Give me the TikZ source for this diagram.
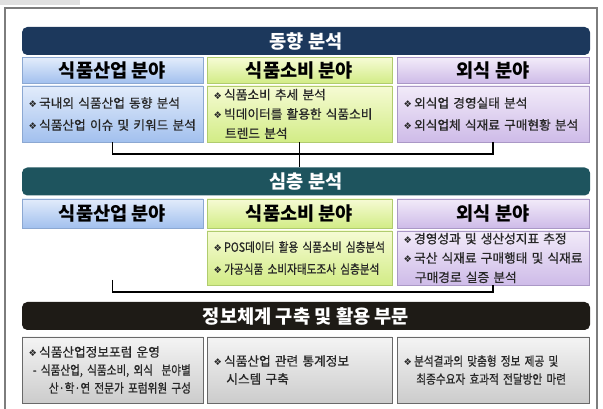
\documentclass[tikz,border=0pt]{standalone}
\usepackage{fontspec}
\setmainfont{Noto Sans CJK KR}
\newfontfamily\krmed[FakeBold=0.7]{Noto Sans CJK KR}
\newfontfamily\krnarrow[FakeStretch=0.84,FakeBold=0.7]{Noto Sans CJK KR}
\newfontfamily\symfont{DejaVu Sans}
\newcommand{\bul}{{\symfont\fontsize{7}{8}\selectfont ❖}\,}
\definecolor{navyBar}{RGB}{28,56,92}
\definecolor{tealBar}{RGB}{30,84,94}
\definecolor{blackBar}{RGB}{30,27,22}
\definecolor{bluT}{RGB}{226,236,251}
\definecolor{bluB}{RGB}{162,192,238}
\definecolor{bluD}{RGB}{140,168,210}
\definecolor{grnT}{RGB}{246,251,212}
\definecolor{grnB}{RGB}{210,236,134}
\definecolor{grnD}{RGB}{176,204,110}
\definecolor{prpT}{RGB}{242,235,249}
\definecolor{prpB}{RGB}{206,187,232}
\definecolor{prpD}{RGB}{170,152,198}
\definecolor{gryT}{RGB}{244,244,244}
\definecolor{gryB}{RGB}{204,204,204}
\definecolor{gryD}{RGB}{105,105,105}
\definecolor{frameGray}{RGB}{125,125,125}
\tikzset{
  bar/.style={rounded corners=4pt, minimum width=426pt, minimum height=21pt,
    inner sep=0pt, text=white, font=\bfseries\fontsize{14}{16}\selectfont},
  hdr/.style={draw, line width=0.6pt, minimum height=19pt, inner sep=0pt,
    font=\bfseries\fontsize{14}{16}\selectfont},
  cbox/.style={draw, line width=0.6pt, align=left, inner xsep=5pt, inner ysep=0pt,
    text width=#1, font=\krmed\fontsize{9.5}{14.5}\selectfont, text=black!85},
  colL/.style={minimum width=135.75pt},
  colM/.style={minimum width=138.75pt},
  colR/.style={minimum width=144pt},
  blu/.style={top color=bluT, bottom color=bluB, draw=bluD},
  grn/.style={top color=grnT, bottom color=grnB, draw=grnD},
  prp/.style={top color=prpT, bottom color=prpB, draw=prpD},
  gry/.style={top color=gryT, bottom color=gryB, draw=gryD},
  link/.style={line width=0.9pt, black}
}
\begin{document}
\begin{tikzpicture}[x=0.75pt, y=-0.75pt]
  \useasboundingbox (0,0) rectangle (603,409);
  % 바깥 틀과 왼쪽 위 탭
  \fill[black!12] (0,0) rectangle (80,5);
  \draw[frameGray, line width=0.9pt] (5,409) -- (5,8) -- (597,8) -- (597,409);
  % 동향 분석
  \node[bar, fill=navyBar] (b1) at (306,41) {동향 분석};
  \node[hdr, colL, blu] (h1l) at (112.5,70.5) {식품산업 분야};
  \node[hdr, colM, grn] (h1m) at (299.5,70.5) {식품소비 분야};
  \node[hdr, colR, prp] (h1r) at (493,70.5) {외식 분야};
  \node[cbox=125.75pt, blu, minimum height=42pt] (c1l) at (112.5,114)
    {\mbox{\bul 국내외 식품산업 동향 분석}\\[2pt]\mbox{\bul 식품산업 이슈 및 키워드 분석}};
  \node[cbox=128.75pt, grn, minimum height=42pt] (c1m) at (299.5,114)
    {\mbox{\bul 식품소비 추세 분석}\\\mbox{\bul 빅데이터를 활용한 식품소비}\\\hspace*{0.9em}\mbox{트렌드 분석}};
  \node[cbox=134pt, prp, minimum height=42pt] (c1r) at (493,114)
    {\mbox{\bul 외식업 경영실태 분석}\\[2pt]\mbox{\bul 외식업체 식재료 구매현황 분석}};
  % 심층 분석
  \node[bar, fill=tealBar] (b2) at (306,181.5) {심층 분석};
  % 연결선 1
  \coordinate (j1) at (299.5,154);
  \draw[link] (c1l.south) |- (j1) -| (c1r.south);
  \draw[link] (c1m.south) -- (c1m.south |- b2.north);
  \node[hdr, colL, blu, minimum height=21.75pt] (h2l) at (112.5,213.5) {식품산업 분야};
  \node[hdr, colM, grn, minimum height=21.75pt] (h2m) at (299.5,213.5) {식품소비 분야};
  \node[hdr, colR, prp, minimum height=21.75pt] (h2r) at (493,213.5) {외식 분야};
  \node[cbox=128.75pt, grn, minimum height=40.5pt] (c2m) at (299.5,258)
    {\krnarrow\mbox{\bul POS데이터 활용 식품소비 심층분석}\\[2pt]\mbox{\bul 가공식품 소비자태도조사 심층분석}};
  \node[cbox=134pt, prp, minimum height=40.5pt] (c2r) at (493,258)
    {\mbox{\bul 경영성과 및 생산성지표 추정}\\\mbox{\bul 국산 식재료 구매행태 및 식재료}\\\hspace*{0.9em}\mbox{구매경로 실증 분석}};
  % 연결선 2
  \coordinate (l2) at (112.5,280);
  \coordinate (j2) at (299.5,292);
  \draw[link] (l2) |- (j2) -| (c2r.south);
  % 정보체계 구축 및 활용 부문
  \node[bar, fill=blackBar] (b3) at (306,316) {정보체계 구축 및 활용 부문};
  \node[cbox=125.75pt, gry, colL, minimum height=49.5pt, font=\krmed\fontsize{9.5}{13.5}\selectfont] (c3l) at (112.5,370)
    {\mbox{\bul 식품산업정보포럼 운영}\\\mbox{\krnarrow\ - 식품산업, 식품소비, 외식 \ 분야별}\\\mbox{\krnarrow\hspace*{1.6em}산·학·연 전문가 포럼위원 구성}};
  \node[cbox=128.75pt, gry, minimum height=49.5pt, font=\krmed\fontsize{9.5}{13.5}\selectfont] (c3m) at (299.5,370)
    {\mbox{\bul 식품산업 관련 통계정보}\\\hspace*{1em}\mbox{시스템 구축}};
  \node[cbox=134pt, gry, minimum height=49.5pt, font=\krmed\fontsize{9.5}{13.5}\selectfont] (c3r) at (493,370)
    {\krnarrow\mbox{\bul 분석결과의 맞춤형 정보 제공 및}\\\hspace*{1em}\mbox{최종수요자 효과적 전달방안 마련}};
\end{tikzpicture}
\end{document}
